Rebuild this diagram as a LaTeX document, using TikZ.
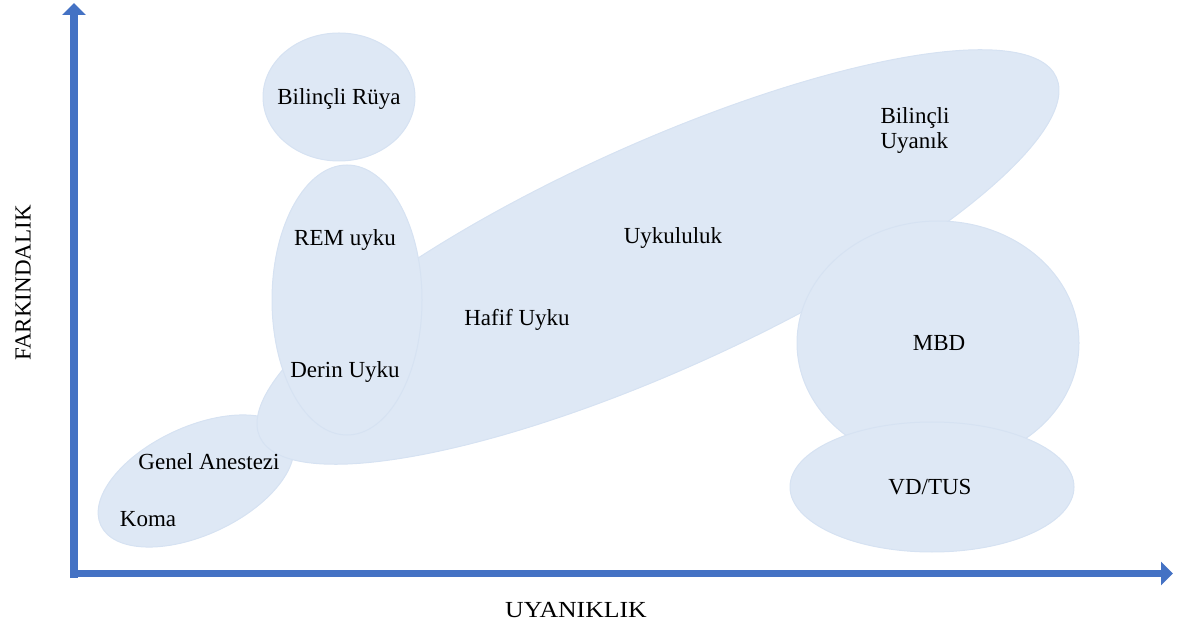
\documentclass[tikz,border=0pt]{standalone}
\usepackage{fontspec}
\setmainfont{Liberation Serif}
\usetikzlibrary{arrows.meta}

\definecolor{blobfill}{RGB}{222,232,245}
\definecolor{blobline}{RGB}{214,226,242}
\definecolor{axisblue}{RGB}{68,114,196}

\tikzset{
  blob/.style={fill=blobfill, draw=blobline, line width=0.5pt},
  lbl/.style={font=\fontsize{11.5pt}{12.5pt}\selectfont, inner sep=0pt, text=black},
  axislbl/.style={font=\fontsize{11.5pt}{12.5pt}\selectfont, inner sep=0pt, text=black},
  axisline/.style={draw=axisblue, line width=3.8pt,
    -{Triangle[width=11.5pt,length=6pt]}},
}

\begin{document}
\begin{tikzpicture}[x=0.5pt, y=-0.5pt]
  \useasboundingbox (0,0) rectangle (1183,630);

  % state regions
  \fill[blob, rotate around={25:(196,481)}] (196,481) ellipse [x radius=105, y radius=54];
  \fill[blob, rotate around={24.3:(658,257)}] (658,257) ellipse [x radius=437, y radius=113];
  \fill[blob] (347,300) ellipse [x radius=75, y radius=135];
  \fill[blob] (339,97) ellipse [x radius=76, y radius=64];
  \fill[blob] (938,343) ellipse [x radius=141, y radius=122];
  \fill[blob] (932,487) ellipse [x radius=142, y radius=65];

  % axes
  \coordinate (ybase) at (74,578);
  \coordinate (ytip) at (74,3);
  \coordinate (xbase) at (70,573.5);
  \coordinate (xtip) at (1173,573.5);
  \draw[axisline] (ybase) -- (ytip);
  \draw[axisline] (xbase) -- (xtip);

  % labels
  \node[lbl] (ruya) at (339,99) {Bilinçli Rüya};
  \node[lbl] (rem) at (345,240) {REM uyku};
  \node[lbl] (derin) at (345,372) {Derin Uyku};
  \node[lbl] (hafif) at (517,320) {Hafif Uyku};
  \node[lbl] (uykululuk) at (673,238) {Uykululuk};
  \node[lbl, align=left] (uyanik) at (915,131) {Bilinçli\\Uyanık};
  \node[lbl] (mbd) at (939,343) {MBD};
  \node[lbl] (vdtus) at (930,487) {VD/TUS};
  \node[lbl] (anestezi) at (209,462) {Genel Anestezi};
  \node[lbl] (koma) at (148,519) {Koma};

  \node[axislbl, rotate=90] (ylabel) at (23,283) {FARKINDALIK};
  \node[axislbl] (xlabel) at (576,610) {\scalebox{1.12}[1]{UYANIKLIK}};
\end{tikzpicture}
\end{document}
